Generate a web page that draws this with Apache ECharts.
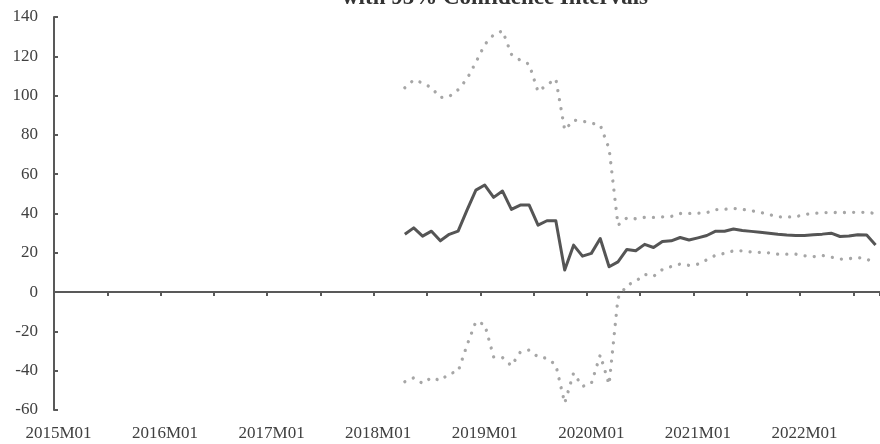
<!DOCTYPE html>
<html>
<head>
<meta charset="utf-8">
<script src="https://cdn.jsdelivr.net/npm/echarts@6/dist/echarts.min.js"></script>
<style>
html,body{margin:0;padding:0;background:#fff;}
#chart{width:880px;height:444px;}
</style>
</head>
<body>
<div id="chart"></div>
<script>
// Monthly categories 2015M01 .. 2022M09
const startYear = 2015;
const categories = [];
for (let k = 0; k < 93; k++) {
  const y = startYear + Math.floor(k / 12);
  const m = (k % 12) + 1;
  categories.push(y + 'M' + (m < 10 ? '0' + m : '' + m));
}
const titleText = 'with 95% Confidence Intervals';
const yTicks = [-60, -40, -20, 0, 20, 40, 60, 80, 100, 120, 140];

// Observed values start at 2018M04 (index 39)
const firstIndex = 39;
const estimate = [
  29.4, 32.7, 28.5, 31.0, 26.1, 29.4, 31.0, 41.7, 51.9, 54.5,
  48.2, 51.4, 42.1, 44.3, 44.3, 34.1, 36.3, 36.3, 11.2, 23.9,
  18.3, 19.7, 27.3, 12.9, 15.4, 21.7, 21.0, 24.3, 22.7, 25.8,
  26.1, 27.8, 26.5, 27.6, 28.8, 31.0, 31.0, 32.1, 31.4, 30.9,
  30.5, 30.0, 29.4, 29.0, 28.8, 28.8, 29.2, 29.5, 30.0, 28.3,
  28.5, 29.2, 29.0, 24.0
];
const upper = [
  104.0, 108.0, 106.5, 104.0, 99.0, 99.5, 103.0, 108.5, 117.0, 126.0,
  131.0, 133.0, 121.0, 118.0, 116.0, 102.0, 105.5, 108.5, 82.5, 87.5,
  87.0, 86.0, 85.0, 73.0, 34.0, 37.8, 37.3, 38.0, 38.0, 38.3,
  38.5, 40.0, 40.0, 40.2, 40.4, 42.0, 42.1, 42.6, 42.1, 41.4,
  40.6, 39.5, 38.3, 38.2, 38.3, 39.5, 40.0, 40.4, 40.6, 40.4,
  40.6, 40.6, 40.6, 40.0
];
const lower = [
  -45.6, -43.6, -46.5, -43.5, -45.0, -41.5, -40.4, -27.0, -15.0, -16.5,
  -33.0, -33.3, -37.5, -30.5, -29.5, -33.0, -33.7, -37.0, -56.5, -41.2,
  -48.0, -46.5, -32.0, -47.0, -3.0, 3.5, 5.5, 9.0, 8.0, 11.5,
  13.0, 14.3, 13.6, 14.2, 16.5, 18.8, 19.7, 21.0, 21.0, 20.4,
  20.2, 20.0, 19.3, 19.3, 19.3, 18.5, 18.0, 18.7, 17.8, 16.8,
  17.0, 17.5, 17.0, 14.0
];

function pad(arr) {
  const out = new Array(categories.length).fill(null);
  for (let i = 0; i < arr.length; i++) out[firstIndex + i] = arr[i];
  return out;
}

const axisColor = '#595959';
const textColor = '#404040';
const font = 'Liberation Serif';

const chart = echarts.init(document.getElementById('chart'), null, {renderer: 'canvas'});
chart.setOption({
  animation: false,
  backgroundColor: '#ffffff',
  title: {
    text: titleText,
    left: 490,
    textAlign: 'center',
    top: -18,
    textStyle: {fontFamily: font, fontWeight: 'bold', fontSize: 23, color: '#333333'}
  },
  grid: {left: 54, right: -9, top: 17, bottom: 34, containLabel: false},
  xAxis: [
    {
      type: 'category',
      data: categories,
      boundaryGap: true,
      position: 'bottom',
      axisLine: {show: true, onZero: true, lineStyle: {color: axisColor, width: 2}},
      axisTick: {show: true, inside: false, length: 4, lineStyle: {color: axisColor, width: 2},
                 interval: function (i) { return i % 6 === 0; }},
      axisLabel: {show: false},
      splitLine: {show: false}
    },
    {
      type: 'category',
      data: categories,
      boundaryGap: true,
      position: 'bottom',
      axisLine: {show: false, onZero: false},
      axisTick: {show: false},
      axisLabel: {
        show: true,
        interval: function (i) { return i % 12 === 0; },
        margin: 15,
        fontFamily: font, fontSize: 17, color: textColor
      },
      splitLine: {show: false}
    }
  ],
  yAxis: {
    type: 'value',
    min: yTicks[0],
    max: yTicks[yTicks.length - 1],
    interval: 20,
    axisLine: {show: true, lineStyle: {color: axisColor, width: 2}},
    axisTick: {show: true, inside: true, length: 4, lineStyle: {color: axisColor, width: 2}},
    axisLabel: {margin: 16, fontFamily: font, fontSize: 17, color: textColor},
    splitLine: {show: false}
  },
  series: [
    {
      type: 'line', data: pad(upper), symbol: 'none', xAxisIndex: 0,
      lineStyle: {color: '#a6a6a6', width: 3.3, type: [0.01, 9.2], cap: 'round'},
      connectNulls: false
    },
    {
      type: 'line', data: pad(lower), symbol: 'none', xAxisIndex: 0,
      lineStyle: {color: '#a6a6a6', width: 3.3, type: [0.01, 9.2], cap: 'round'},
      connectNulls: false
    },
    {
      type: 'line', data: pad(estimate), symbol: 'none', xAxisIndex: 0,
      lineStyle: {color: '#555555', width: 3, join: 'round'},
      connectNulls: false
    }
  ]
});
</script>
</body>
</html>
